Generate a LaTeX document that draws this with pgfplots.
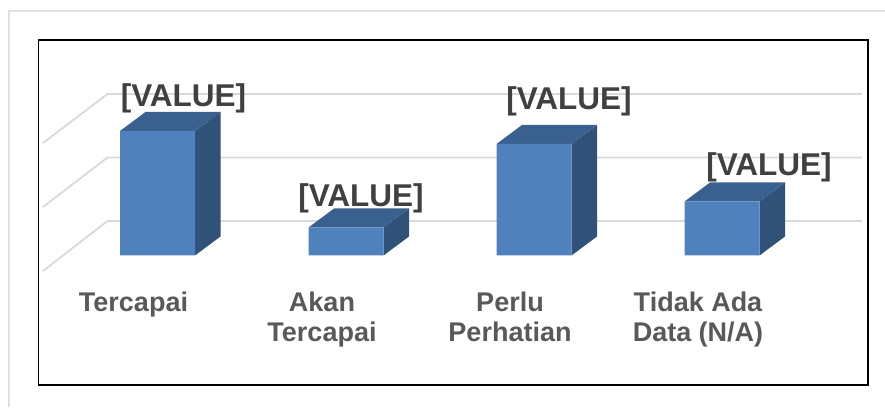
\documentclass[border=0pt]{standalone}
\usepackage{fontspec}
\setmainfont{Liberation Sans}
\usepackage{pgfplots}
\pgfplotsset{compat=1.18}
\definecolor{barfront}{HTML}{4F81BD}
\definecolor{bartop}{HTML}{3A6090}
\definecolor{barside}{HTML}{305278}
\definecolor{gridgray}{HTML}{D9D9D9}
\definecolor{labelgray}{HTML}{595959}
\definecolor{valuegray}{HTML}{404040}
\definecolor{outergray}{HTML}{E0E0E0}

\begin{document}
\begin{tikzpicture}
% page size: 885 x 407, axis frame sits at (38.5,22) from the lower left
\path[use as bounding box] (-38.5pt,-22pt) rectangle (846.5pt,385pt);
\draw[outergray, line width=1.5pt] (-29.5pt,-22pt) -- (-29.5pt,374pt) -- (846.5pt,374pt);
\begin{axis}[
    at={(0pt,0pt)}, anchor=south west,
    scale only axis,
    width=829.5pt, height=345pt,
    xmin=38.5, xmax=868,
    ymin=-129.5, ymax=215.5,
    axis line style={black, line width=1.5pt},
    ytick=\empty,
    xtick={133.5,322,510,698},
    xticklabels={Tercapai, {Akan\\Tercapai}, {Perlu\\Perhatian}, {Tidak Ada\\Data (N/A)}},
    major tick length=0pt,
    x tick label style={
        anchor=north, align=center, yshift=96.5pt, text=labelgray,
        font=\fontsize{27}{30}\selectfont\bfseries},
]
% back wall lines
\addplot[gridgray, line width=1.8pt] coordinates {(43,-15.5) (107.5,34.5) (862,34.5)};
\addplot[gridgray, line width=1.8pt] coordinates {(43,48.5) (107.5,98) (862,98)};
\addplot[gridgray, line width=1.8pt] coordinates {(43,112.5) (107.5,161.5) (862,161.5)};

% bar sides
\addplot[fill=barside, draw=none] coordinates {(195,0) (220.5,19) (220.5,143.5) (195,124.5)} -- cycle;
\addplot[fill=barside, draw=none] coordinates {(383.5,0) (409,19) (409,47) (383.5,28)} -- cycle;
\addplot[fill=barside, draw=none] coordinates {(571.5,0) (597,19) (597,130.5) (571.5,111.5)} -- cycle;
\addplot[fill=barside, draw=none] coordinates {(759.5,0) (785,19) (785,73) (759.5,54)} -- cycle;
% bar tops
\addplot[fill=bartop, draw=none] coordinates {(120,124.5) (195,124.5) (220.5,143.5) (145.5,143.5)} -- cycle;
\addplot[fill=bartop, draw=none] coordinates {(308.5,28) (383.5,28) (409,47) (334,47)} -- cycle;
\addplot[fill=bartop, draw=none] coordinates {(496.5,111.5) (571.5,111.5) (597,130.5) (522,130.5)} -- cycle;
\addplot[fill=bartop, draw=none] coordinates {(684.5,54) (759.5,54) (785,73) (710,73)} -- cycle;
% bar fronts
\addplot[ybar, bar width=75pt, bar shift=0pt, fill=barfront, draw=none] coordinates {
    (157.5,124.5) (346,28) (534,111.5) (722,54)
};
% data labels
\addplot[draw=none, mark=none,
    nodes near coords={\fontsize{31.5}{34}\selectfont\bfseries [VALUE]},
    nodes near coords align=center,
    every node near coord/.append style={text=valuegray, anchor=center, inner sep=0pt},
] coordinates {(183.5,157) (361,57) (569,154) (769,88)};
\end{axis}
\end{tikzpicture}
\end{document}
